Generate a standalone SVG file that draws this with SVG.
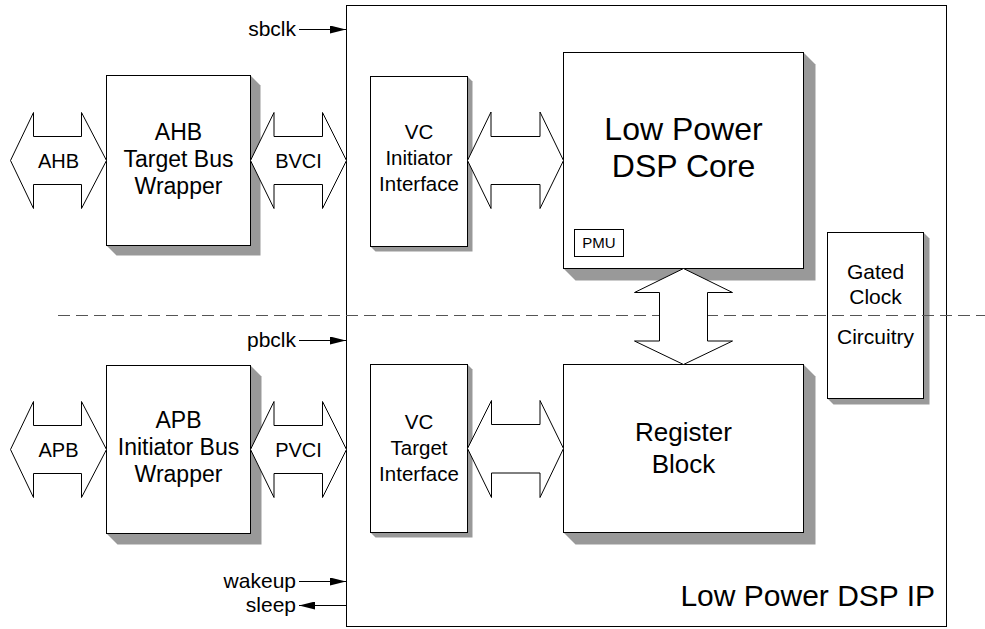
<svg xmlns="http://www.w3.org/2000/svg" width="985" height="629" viewBox="0 0 985 629">
<defs>
<style>
.box{fill:#fff;stroke:#000;stroke-width:1}
.sh{fill:#999}
.bus{fill:#fff;stroke:#000;stroke-width:1;stroke-linejoin:miter}
.t{font-family:"Liberation Sans",Arial,sans-serif;fill:#000;text-anchor:middle}
.sig{font-family:"Liberation Sans",Arial,sans-serif;fill:#000;text-anchor:end;font-size:21px}
.wire{stroke:#000;stroke-width:1;fill:none;marker-end:url(#ah)}
</style>
<marker id="ah" markerUnits="userSpaceOnUse" markerWidth="16" markerHeight="8" refX="16" refY="4" orient="auto">
<path d="M0,0 L16,4 L0,8 z" fill="#000"/>
</marker>
</defs>
<rect width="985" height="629" fill="#fff"/>

<g id="ip">
<rect class="box" x="346.5" y="5.5" width="600" height="621"/>
<text class="t" x="935" y="606" style="text-anchor:end" font-size="30">Low Power DSP IP</text>
</g>

<g id="ahb-wrapper">
<polygon class="sh" points="250.5,75.5 260.5,85.5 260.5,255.5 116.5,255.5 106.5,245.5"/>
<rect class="box" x="106.5" y="75.5" width="144" height="170"/>
<text class="t" font-size="23"><tspan x="178.5" y="140">AHB</tspan><tspan x="178.5" y="167">Target Bus</tspan><tspan x="178.5" y="194">Wrapper</tspan></text>
</g>

<g id="apb-wrapper">
<polygon class="sh" points="250.5,365.5 261.5,376.5 261.5,544.5 117.5,544.5 106.5,533.5"/>
<rect class="box" x="106.5" y="365.5" width="144" height="168"/>
<text class="t" font-size="23"><tspan x="178.5" y="428">APB</tspan><tspan x="178.5" y="455">Initiator Bus</tspan><tspan x="178.5" y="482">Wrapper</tspan></text>
</g>

<g id="vc-initiator">
<polygon class="sh" points="467.5,76.5 472.5,81.5 472.5,251.5 375.5,251.5 370.5,246.5"/>
<rect class="box" x="370.5" y="76.5" width="97" height="170"/>
<text class="t" font-size="20.5"><tspan x="419" y="139">VC</tspan><tspan x="419" y="165">Initiator</tspan><tspan x="419" y="191">Interface</tspan></text>
</g>

<g id="vc-target">
<polygon class="sh" points="467.5,364.5 472.5,369.5 472.5,537.5 375.5,537.5 370.5,532.5"/>
<rect class="box" x="370.5" y="364.5" width="97" height="168"/>
<text class="t" font-size="20.5"><tspan x="419" y="429">VC</tspan><tspan x="419" y="455">Target</tspan><tspan x="419" y="481">Interface</tspan></text>
</g>

<g id="dsp-core">
<polygon class="sh" points="803.5,52.5 815.5,64.5 815.5,280.5 575.5,280.5 563.5,268.5"/>
<rect class="box" x="563.5" y="52.5" width="240" height="216"/>
<text class="t" font-size="32"><tspan x="683.5" y="140">Low Power</tspan><tspan x="683.5" y="177">DSP Core</tspan></text>
</g>

<g id="pmu">
<rect class="box" x="574.5" y="229.5" width="49" height="27"/>
<text class="t" x="599" y="248" font-size="15">PMU</text>
</g>

<g id="register-block">
<polygon class="sh" points="803.5,364.5 815.5,376.5 815.5,544.5 575.5,544.5 563.5,532.5"/>
<rect class="box" x="563.5" y="364.5" width="240" height="168"/>
<text class="t" font-size="26"><tspan x="683.5" y="441">Register</tspan><tspan x="683.5" y="473">Block</tspan></text>
</g>

<g id="gated-clock">
<polygon class="sh" points="923.5,232.5 929.5,238.5 929.5,404.5 833.5,404.5 827.5,398.5"/>
<rect class="box" x="827.5" y="232.5" width="96" height="166"/>
<text class="t" font-size="21"><tspan x="875.5" y="279">Gated</tspan><tspan x="875.5" y="304">Clock</tspan><tspan x="875.5" y="344">Circuitry</tspan></text>
</g>

<g id="connectors">
<path d="M58,315.5 H985" stroke="#555" stroke-width="1" stroke-dasharray="12 6" fill="none"/>

<polygon class="bus" points="10.5,160.5 33.5,112.5 33.5,136.5 81.5,136.5 81.5,112.5 106.5,160.5 81.5,208.5 81.5,184.5 33.5,184.5 33.5,208.5"/>
<text class="t" x="58.5" y="167.5" font-size="20">AHB</text>

<polygon class="bus" points="250.5,160.5 274,112.5 274,136.5 322.5,136.5 322.5,112.5 346.5,160.5 322.5,208.5 322.5,184.5 274,184.5 274,208.5"/>
<text class="t" x="298.5" y="167.5" font-size="20">BVCI</text>

<polygon class="bus" points="10.5,449.5 33.5,401.5 33.5,425.5 81.5,425.5 81.5,401.5 106.5,449.5 81.5,497.5 81.5,473.5 33.5,473.5 33.5,497.5"/>
<text class="t" x="58.5" y="456.5" font-size="20">APB</text>

<polygon class="bus" points="250.5,449.5 274,401.5 274,425.5 322.5,425.5 322.5,401.5 346.5,449.5 322.5,497.5 322.5,473.5 274,473.5 274,497.5"/>
<text class="t" x="298.5" y="456.5" font-size="20">PVCI</text>

<polygon class="bus" points="467.5,160.5 491,112 491,136.5 540,136.5 540,112 563.5,160.5 540,208.5 540,184.5 491,184.5 491,208.5"/>
<polygon class="bus" points="467.5,448.5 491.5,400.5 491.5,424.5 540,424.5 540,400.5 563.5,448.5 540,497.5 540,473 491.5,473 491.5,497.5"/>

<polygon class="bus" points="683.5,268.5 732.5,292.5 707.5,292.5 707.5,341 732.5,341 683.5,364.5 634.5,341 659.5,341 659.5,292.5 634.5,292.5"/>

<path class="wire" d="M299,29.5 H346"/>
<path class="wire" d="M299,340.5 H346"/>
<path class="wire" d="M299,581.5 H346"/>
<path class="wire" d="M346,605.5 H299"/>
<text class="sig" x="296" y="35.5">sbclk</text>
<text class="sig" x="296" y="346.5">pbclk</text>
<text class="sig" x="296" y="588">wakeup</text>
<text class="sig" x="296" y="612">sleep</text>
</g>
</svg>
